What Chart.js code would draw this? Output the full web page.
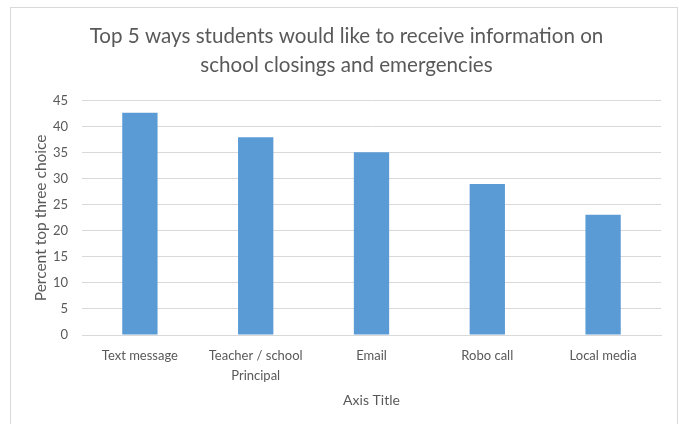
<!DOCTYPE html>
<html>
<head>
<meta charset="utf-8">
<script src="https://cdn.jsdelivr.net/npm/chart.js@4"></script>
<style>
  html, body { margin: 0; padding: 0; background: #ffffff; overflow: hidden; }
  #frame { position: absolute; left: 10px; top: 7px; width: 668px; height: 440px; border: 1px solid #d9d9d9; box-sizing: border-box; }
  #wrap { position: absolute; left: 0; top: 0; width: 679px; height: 424px; }
</style>
</head>
<body>
<div id="frame"></div>
<div id="wrap"><canvas id="c" width="679" height="424"></canvas></div>
<script>
// Survey results: share of students naming each channel among their top three
const categories = ['Text message', ['Teacher / school', 'Principal'], 'Email', 'Robo call', 'Local media'];
const percentTopThree = [42.7, 38.0, 35.1, 29.0, 23.1];
const yTicks = [0, 5, 10, 15, 20, 25, 30, 35, 40, 45];

const titleLines = ['Top 5 ways students would like to receive information on', 'school closings and emergencies'];
const yAxisTitle = 'Percent top three choice';
const xAxisTitle = 'Axis Title';

const textColor = '#595959';
const fontFamily = 'Lato, "Open Sans", sans-serif';

new Chart(document.getElementById('c'), {
  type: 'bar',
  data: {
    labels: categories,
    datasets: [{
      data: percentTopThree,
      backgroundColor: '#5b9bd5',
      borderWidth: 0,
      categoryPercentage: 1.0,
      barPercentage: 0.305
    }]
  },
  options: {
    responsive: false,
    animation: false,
    devicePixelRatio: 1,
    layout: { padding: { left: 32, right: 18, top: 0, bottom: 0 } },
    plugins: {
      legend: { display: false },
      tooltip: { enabled: false },
      title: {
        display: true,
        text: titleLines,
        color: textColor,
        font: { family: fontFamily, size: 20.6, weight: 'normal', lineHeight: 1.45 },
        padding: { top: 21, bottom: 20 }
      }
    },
    scales: {
      y: {
        min: 0,
        max: 45,
        afterBuildTicks: (scale) => { scale.ticks = yTicks.map(v => ({ value: v })); },
        afterFit: (scale) => { scale.width = 50; },
        border: { display: false },
        grid: { color: '#d9d9d9', lineWidth: 1, drawTicks: false },
        ticks: { color: textColor, font: { family: fontFamily, size: 13 }, padding: 14 },
        title: {
          display: true,
          text: yAxisTitle,
          color: textColor,
          font: { family: fontFamily, size: 15.5, lineHeight: 1.15 },
          padding: { top: 0, bottom: 0 }
        }
      },
      x: {
        afterFit: (scale) => { scale.height = 89; },
        border: { display: true, color: '#d9d9d9' },
        grid: { display: false, drawTicks: false },
        ticks: { color: textColor, font: { family: fontFamily, size: 13, lineHeight: 1.55 }, padding: 11, maxRotation: 0, autoSkip: false },
        title: {
          display: true,
          text: xAxisTitle,
          color: textColor,
          font: { family: fontFamily, size: 14, lineHeight: 1.2 },
          padding: { top: 0, bottom: 15.6 }
        }
      }
    }
  }
});
</script>
</body>
</html>
